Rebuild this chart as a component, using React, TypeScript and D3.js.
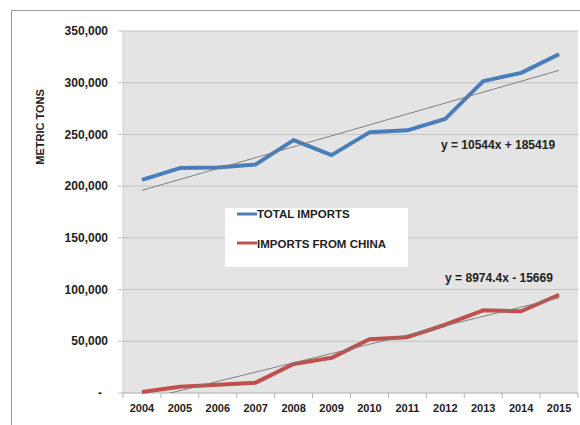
import React from "react";
import * as d3 from "d3";

const years = ["2004","2005","2006","2007","2008","2009","2010","2011","2012","2013","2014","2015"];
const totalImports = [206000, 217500, 218000, 221000, 244500, 230000, 252000, 254000, 265000, 301500, 309500, 327500];
const chinaImports = [1000, 6000, 8000, 10000, 28000, 34000, 52000, 54000, 66000, 80000, 79000, 95000];
const yTicks = [0, 50000, 100000, 150000, 200000, 250000, 300000, 350000];
const totalTrend = { slope: 10544, intercept: 185419, label: "y = 10544x + 185419" };
const chinaTrend = { slope: 8974.4, intercept: -15669, label: "y = 8974.4x - 15669" };

const BLUE = "#4a7ebb";
const RED = "#c0504d";
const FONT = "'Liberation Sans', Arial, sans-serif";

export default function App() {
  const left = 123, right = 578, top = 31, bottom = 393;
  const x = d3.scaleBand<string>().domain(years).range([left, right]);
  const y = d3.scaleLinear().domain([0, 350000]).range([bottom, top]);
  const cx = (i: number) => (x(years[i]) as number) + x.bandwidth() / 2;

  const line = d3.line<number>().x((_, i) => cx(i)).y((d) => y(d));
  const trendPath = (t: { slope: number; intercept: number }) => {
    const last = years.length - 1;
    const pts = d3.range(0, last, 0.05).concat([last]);
    return d3.line<number>().x((i) => cx(0) + i * x.step()).y((i) => y(t.slope * (i + 1) + t.intercept))(pts) as string;
  };
  const fmt = (v: number) => (v === 0 ? "-" : d3.format(",")(v));

  return (
    <svg width={580} height={425} style={{ position: "absolute", left: 0, top: 0, background: "#fff" }} fontFamily={FONT}>
      <defs>
        <clipPath id="plotclip">
          <rect x={left} y={top} width={right - left} height={bottom - top} />
        </clipPath>
      </defs>
      <line x1={11} y1={10.5} x2={580} y2={10.5} stroke="#9a9a9a" strokeWidth={1} />
      <line x1={11.5} y1={10} x2={11.5} y2={425} stroke="#9a9a9a" strokeWidth={1} />
      <rect x={left} y={top} width={right - left} height={bottom - top} fill="#e4e4e4" />
      {yTicks.map((t) => (
        <g key={t}>
          {t > 0 && <line x1={left} x2={right} y1={y(t)} y2={y(t)} stroke="#c4c4c4" strokeWidth={1} />}
          <line x1={left - 5} x2={left} y1={y(t)} y2={y(t)} stroke="#bdbdbd" />
          <text x={t === 0 ? 100 : 108} y={y(t)} dy="0.35em" textAnchor={t === 0 ? "middle" : "end"} fontSize={12} fontWeight="bold" fill="#222">
            {fmt(t)}
          </text>
        </g>
      ))}
      <line x1={left} x2={left} y1={top} y2={bottom} stroke="#d0d0d0" />
      <line x1={left} x2={right} y1={bottom} y2={bottom} stroke="#b0b0b0" />
      {years.map((yr, i) => (
        <g key={yr}>
          <line x1={(x(yr) as number) + x.bandwidth()} x2={(x(yr) as number) + x.bandwidth()} y1={bottom} y2={bottom + 5} stroke="#b0b0b0" />
          <text x={cx(i)} y={412} textAnchor="middle" fontSize={11} fontWeight="bold" fill="#222">{yr}</text>
        </g>
      ))}
      <line x1={left} x2={left} y1={bottom} y2={bottom + 5} stroke="#b0b0b0" />
      <text transform="translate(44,127) rotate(-90)" textAnchor="middle" fontSize={11} fontWeight="bold" fill="#222">METRIC TONS</text>
      <path d={line(totalImports) as string} fill="none" stroke={BLUE} strokeWidth={4} strokeLinejoin="round" />
      <path d={line(chinaImports) as string} fill="none" stroke={RED} strokeWidth={4} strokeLinejoin="round" />
      <g clipPath="url(#plotclip)">
        <path d={trendPath(totalTrend)} fill="none" stroke="#7a7a7a" strokeWidth={1} />
        <path d={trendPath(chinaTrend)} fill="none" stroke="#7a7a7a" strokeWidth={1} />
      </g>
      <text x={498} y={145} dy="0.35em" textAnchor="middle" fontSize={12} fontWeight="bold" fill="#222">{totalTrend.label}</text>
      <text x={499} y={278} dy="0.35em" textAnchor="middle" fontSize={12} fontWeight="bold" fill="#222">{chinaTrend.label}</text>
      <rect x={225} y={208} width={183} height={59} fill="#fff" />
      <line x1={237} x2={257} y1={214} y2={214} stroke={BLUE} strokeWidth={3} />
      <text x={257} y={214} dy="0.35em" fontSize={11.5} fontWeight="bold" fill="#222">TOTAL IMPORTS</text>
      <line x1={237} x2={257} y1={243} y2={243} stroke={RED} strokeWidth={3} />
      <text x={257} y={244} dy="0.35em" fontSize={11.5} fontWeight="bold" fill="#222">IMPORTS FROM CHINA</text>
    </svg>
  );
}
